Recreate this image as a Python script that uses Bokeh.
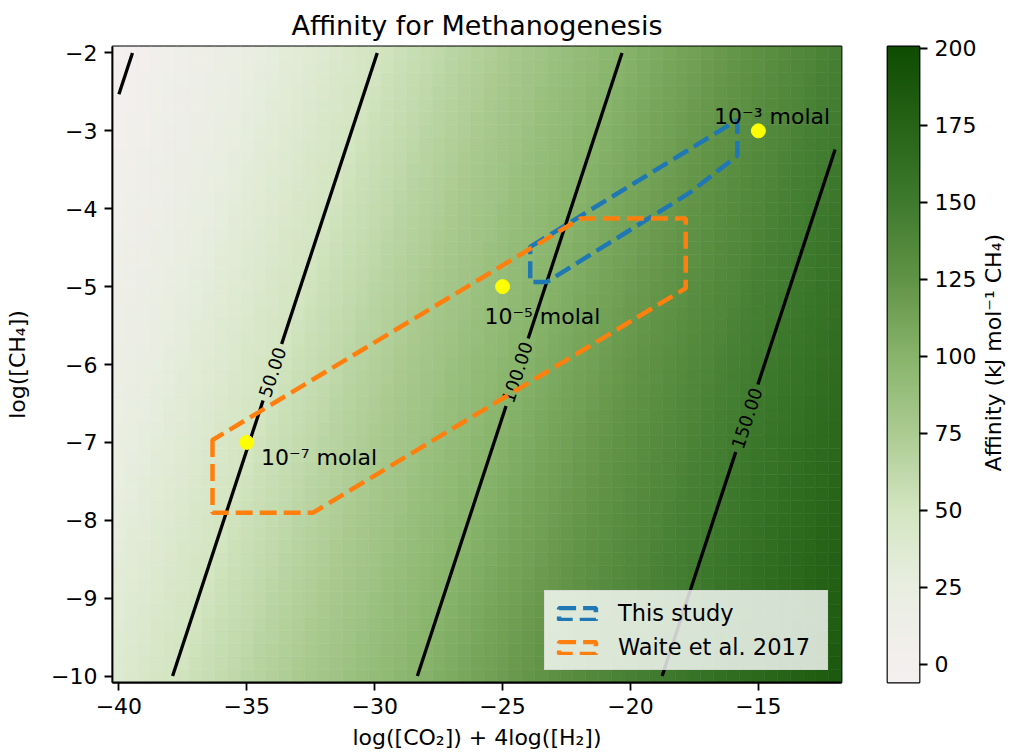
import math
import numpy as np
from bokeh.plotting import figure
from bokeh.models import (LinearColorMapper, Legend, LegendItem, FixedTicker,
                          Range1d, ColumnDataSource)
from bokeh.layouts import row
from bokeh.embed import file_html
from bokeh.resources import INLINE
from bokeh.core.properties import value

# ---------------- data ----------------
TITLE = "Affinity for Methanogenesis"
X_LABEL = "log([CO₂]) + 4log([H₂])"
Y_LABEL = "log([CH₄])"
CBAR_LABEL = "Affinity (kJ mol⁻¹ CH₄)"

# heatmap cell centres
grid_x = np.arange(-40.0, -11.99, 0.5)
grid_y = np.linspace(-10.0, -2.0, 49)
# affinity relation: A = slope * (x - y + offset)
affinity_slope = 5.225
affinity_offset = 37.47
cbar_low, cbar_high = -5.9, 200.5

contour_levels = [0, 50, 100, 150]
contour_texts = ["", "50.00", "100.00", "150.00"]
contour_label_y = [None, -6.10, -6.10, -6.69]

x_ticks = [-40, -35, -30, -25, -20, -15]
y_ticks = [-10, -9, -8, -7, -6, -5, -4, -3, -2]
cbar_ticks = [0, 25, 50, 75, 100, 125, 150, 175, 200]

study_name = "This study"
study_x = [-23.92, -15.82, -15.82, -17.71, -23.27, -23.92]
study_y = [-4.49, -2.86, -3.32, -3.80, -4.94, -4.94]

waite_name = "Waite et al. 2017"
waite_x = [-36.34, -36.34, -32.42, -17.84, -17.84, -21.96]
waite_y = [-6.97, -7.905, -7.905, -5.02, -4.126, -4.126]

point_x = [-35, -25, -15]
point_y = [-7, -5, -3]
point_text = ["10⁻⁷ molal", "10⁻⁵ molal", "10⁻³ molal"]
point_text_x = [-34.44, -25.71, -16.73]
point_text_y = [-7.19, -5.39, -2.81]

# ---------------- styling ----------------
FONT = "DejaVu Sans"
BLUE = "#1f77b4"
ORANGE = "#ff7f0e"
cmap_values = [-5.9, 0, 25, 50, 75, 100, 125, 150, 175, 200.5]
cmap_colors = ["#f4f0f0", "#f3efee", "#e9eee1", "#d3e5c1", "#abcb91",
               "#88b46b", "#619346", "#3f7a2e", "#276418", "#0e4c02"]


def hex2rgb(h):
    return [int(h[i:i + 2], 16) for i in (1, 3, 5)]


vals = np.linspace(cbar_low, cbar_high, 256)
rgbs = np.array([hex2rgb(c) for c in cmap_colors], dtype=float)
palette = []
for v in vals:
    r = np.interp(v, cmap_values, rgbs[:, 0])
    g = np.interp(v, cmap_values, rgbs[:, 1])
    b = np.interp(v, cmap_values, rgbs[:, 2])
    palette.append("#%02x%02x%02x" % (int(round(r)), int(round(g)), int(round(b))))
mapper = LinearColorMapper(palette=palette, low=cbar_low, high=cbar_high)

hx = (grid_x[1] - grid_x[0]) / 2
hy = (grid_y[1] - grid_y[0]) / 2
xmin, xmax = grid_x[0] - hx, grid_x[-1] + hx
ymin, ymax = grid_y[0] - hy, grid_y[-1] + hy

W_MAIN, H = 870, 756
BL, BR, BT, BB = 112, 29, 46, 74

p = figure(width=W_MAIN, height=H, x_range=Range1d(xmin, xmax),
           y_range=Range1d(ymin, ymax), output_backend="svg",
           toolbar_location=None, min_border_left=BL, min_border_right=BR,
           min_border_top=BT, min_border_bottom=BB, title=TITLE)
p.title.text_font = FONT
p.title.text_font_size = "27px"
p.title.text_font_style = "normal"
p.title.text_color = "black"
p.title.align = "center"
p.title.vertical_align = "middle"
p.grid.visible = False
p.outline_line_color = "black"
p.outline_line_width = 1.8

# heatmap cells
X, Y = np.meshgrid(grid_x, grid_y)
A = affinity_slope * (X - Y + affinity_offset)
cells = ColumnDataSource(dict(left=(X - hx).ravel(), right=(X + hx).ravel(),
                              bottom=(Y - hy).ravel(), top=(Y + hy).ravel(),
                              A=A.ravel()))
p.quad(left="left", right="right", bottom="bottom", top="top", source=cells,
       fill_color={"field": "A", "transform": mapper},
       line_color={"field": "A", "transform": mapper}, line_width=0.6)

# contour lines
fw = W_MAIN - BL - BR
fh = H - BT - BB
ppx = fw / (xmax - xmin)
ppy = fh / (ymax - ymin)
ang = math.atan2(ppy, ppx)
em = {"0": 0.636, "1": 0.636, "5": 0.636, ".": 0.318}
lab_fs = 18
xs, ys = [], []
lx, ly, lt = [], [], []
for lev, txt, yl in zip(contour_levels, contour_texts, contour_label_y):
    d = lev / affinity_slope - affinity_offset
    y_lo = max(grid_y[0], grid_x[0] - d)
    y_hi = min(grid_y[-1], grid_x[-1] - d)
    if txt:
        wpx = sum(em[c] for c in txt) * lab_fs + 8
        gap = (wpx / 2) * math.sin(ang) / ppy
        segs = [(y_lo, yl - gap), (yl + gap, y_hi)]
        lx.append(yl + d)
        ly.append(yl)
        lt.append(txt)
    else:
        segs = [(y_lo, y_hi)]
    for a, b in segs:
        xs.append([a + d, b + d])
        ys.append([a, b])
p.multi_line(xs, ys, line_color="black", line_width=3.3)
p.text(x=lx, y=ly, text=lt, angle=ang, text_align="center",
       text_baseline="middle", text_font=value(FONT),
       text_font_size=f"{lab_fs}px", text_color="black")

# polygons
r_study = p.patch(study_x, study_y, fill_color=None, fill_alpha=0,
                  line_color=BLUE, line_width=4.5, line_dash="17 7")
r_waite = p.patch(waite_x, waite_y, fill_color=None, fill_alpha=0,
                  line_color=ORANGE, line_width=4.5, line_dash="17 7")

# points and labels
p.scatter(point_x, point_y, size=14, fill_color="#ffff00",
          line_color="#ffff00")
p.text(x=point_text_x, y=point_text_y, text=point_text, text_align="left",
       text_baseline="alphabetic", text_font=value(FONT),
       text_font_size="22px", text_color="black")

# axes
p.xaxis.ticker = FixedTicker(ticks=x_ticks)
p.yaxis.ticker = FixedTicker(ticks=y_ticks)
p.xaxis.major_label_overrides = {t: str(t).replace("-", "−") for t in x_ticks}
p.yaxis.major_label_overrides = {t: str(t).replace("-", "−") for t in y_ticks}
p.xaxis.axis_label = X_LABEL
p.yaxis.axis_label = Y_LABEL
for ax in (p.xaxis[0], p.yaxis[0]):
    ax.major_label_text_font = FONT
    ax.major_label_text_font_size = "22px"
    ax.major_label_text_color = "black"
    ax.axis_label_text_font = FONT
    ax.axis_label_text_font_size = "22px"
    ax.axis_label_text_font_style = "normal"
    ax.axis_label_text_color = "black"
    ax.major_tick_out = 8
    ax.major_tick_in = 0
    ax.minor_tick_out = 0
    ax.minor_tick_in = 0
    ax.major_tick_line_width = 1.8
    ax.major_tick_line_color = "black"
    ax.axis_line_width = 1.8
    ax.axis_line_color = "black"
    ax.major_label_standoff = 7
p.xaxis.axis_label_standoff = 8
p.yaxis.axis_label_standoff = 18

legend = Legend(items=[LegendItem(label=study_name, renderers=[r_study]),
                       LegendItem(label=waite_name, renderers=[r_waite])],
                location=(432, 12), margin=0, padding=9, spacing=8,
                glyph_width=46, glyph_height=15, label_standoff=18,
                label_width=200,
                label_text_font=FONT, label_text_font_size="22.5px",
                label_text_color="black",
                background_fill_color="white", background_fill_alpha=0.8,
                border_line_color="#cccccc", border_line_width=1.5)
p.add_layout(legend)

# colorbar figure
cb = figure(width=111, height=H, x_range=Range1d(0, 1),
            y_range=Range1d(cbar_low, cbar_high), y_axis_location="right",
            output_backend="svg", toolbar_location=None, min_border_left=17,
            min_border_right=62, min_border_top=BT, min_border_bottom=BB)
cb.xaxis.visible = False
cb.grid.visible = False
cb.outline_line_color = "black"
cb.outline_line_width = 1.8
grad = np.linspace(cbar_low, cbar_high, 512).reshape(-1, 1)
cb.image(image=[grad], x=0, y=cbar_low, dw=1, dh=cbar_high - cbar_low,
         color_mapper=mapper)
cax = cb.yaxis[0]
cax.ticker = FixedTicker(ticks=cbar_ticks)
cax.major_label_text_font = FONT
cax.major_label_text_font_size = "22px"
cax.major_label_text_color = "black"
cax.major_tick_out = 8
cax.major_tick_in = 0
cax.minor_tick_out = 0
cax.minor_tick_in = 0
cax.major_tick_line_width = 1.8
cax.major_tick_line_color = "black"
cax.axis_line_color = None
cax.major_label_standoff = 7

# colorbar label figure
LW = 1014 - W_MAIN - 111
lb = figure(width=LW, height=H, x_range=Range1d(0, LW), y_range=Range1d(0, H),
            output_backend="svg", toolbar_location=None, min_border=0)
lb.axis.visible = False
lb.grid.visible = False
lb.outline_line_color = None
lb.text(x=[12], y=[H - (BT + (H - BB)) / 2], text=[CBAR_LABEL],
        angle=math.pi / 2, text_align="center", text_baseline="middle",
        text_font=value(FONT), text_font_size="22px", text_color="black")

layout = row(p, cb, lb)
open("out.html", "w").write(file_html(layout, INLINE))
